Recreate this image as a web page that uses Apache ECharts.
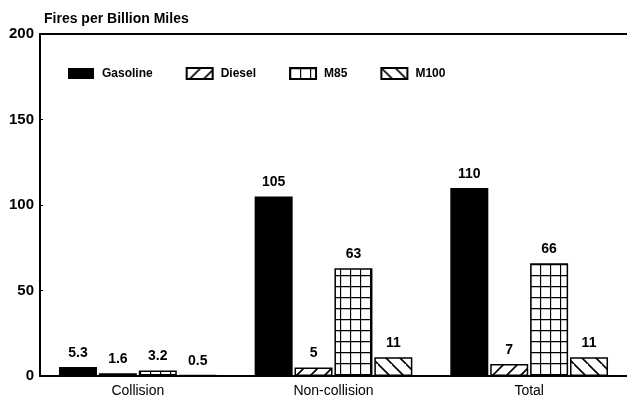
<!DOCTYPE html>
<html><head><meta charset="utf-8">
<script src="https://cdn.jsdelivr.net/npm/echarts@6/dist/echarts.min.js"></script>
<style>html,body{margin:0;padding:0;background:#fff}#c{width:627px;height:402px}</style>
</head><body><div id="c"></div>
<script>
const categories = ['Collision', 'Non-collision', 'Total'];
const seriesNames = ['Gasoline', 'Diesel', 'M85', 'M100'];
const gasoline = [5.3, 105, 110];
const diesel = [1.6, 5, 7];
const m85 = [3.2, 63, 66];
const m100 = [0.5, 11, 11];
const valueLabels = {
  Gasoline: ['5.3', '105', '110'],
  Diesel: ['1.6', '5', '7'],
  M85: ['3.2', '63', '66'],
  M100: ['0.5', '11', '11']
};
const yTicks = [0, 50, 100, 150, 200];

function makeTile(w, h, draw) {
  const c = document.createElement('canvas');
  c.width = w; c.height = h;
  const ctx = c.getContext('2d');
  ctx.fillStyle = '#fff'; ctx.fillRect(0, 0, w, h);
  ctx.strokeStyle = '#000'; ctx.lineWidth = 1.6;
  draw(ctx, w, h);
  return c;
}
const slashTile = makeTile(14, 14, (ctx, w, h) => {
  ctx.beginPath();
  ctx.moveTo(-2, h + 2); ctx.lineTo(w + 2, -2);
  ctx.moveTo(-2 - w, h + 2); ctx.lineTo(2, -2);
  ctx.moveTo(w - 2, 2 * h + 2); ctx.lineTo(2 * w + 2, h - 2);
  ctx.stroke();
});
const backTile = makeTile(14, 14, (ctx, w, h) => {
  ctx.beginPath();
  ctx.moveTo(-2, -2); ctx.lineTo(w + 2, h + 2);
  ctx.moveTo(-2 - w, -2); ctx.lineTo(2, h + 2);
  ctx.moveTo(w - 2, -2 - h); ctx.lineTo(2 * w + 2, 2);
  ctx.stroke();
});
const gridTile = makeTile(10, 11, (ctx, w, h) => {
  ctx.lineWidth = 1.3;
  ctx.beginPath();
  ctx.moveTo(0.5, 0); ctx.lineTo(0.5, h);
  ctx.moveTo(0, 0.5); ctx.lineTo(w, 0.5);
  ctx.stroke();
});

const fills = {
  Gasoline: '#000',
  Diesel: { image: slashTile, repeat: 'repeat' },
  M85: { image: gridTile, repeat: 'repeat' },
  M100: { image: backTile, repeat: 'repeat' }
};
const dataMap = { Gasoline: gasoline, Diesel: diesel, M85: m85, M100: m100 };

const font = '"Liberation Sans", Arial, sans-serif';
const chart = echarts.init(document.getElementById('c'), null, { renderer: 'canvas' });
chart.setOption({
  animation: false,
  backgroundColor: '#fff',
  title: {
    text: 'Fires per Billion Miles', left: 39, top: 7,
    textStyle: { fontFamily: font, fontSize: 14, fontWeight: 'bold', color: '#000' }
  },
  legend: {
    left: 63, top: 62, itemWidth: 26, itemHeight: 11, itemGap: 33,
    icon: 'rect',
    data: seriesNames,
    textStyle: { fontFamily: font, fontSize: 12, fontWeight: 'bold', color: '#000', padding: [0, 0, 0, 3] }
  },
  grid: { left: 40, right: -3, top: 34, bottom: 26 },
  xAxis: [{
    type: 'category', data: categories,
    axisLine: { lineStyle: { color: '#000', width: 2 } },
    axisTick: { show: false },
    axisLabel: { fontFamily: font, fontSize: 14, color: '#000', margin: 8 }
  }, {
    type: 'category', position: 'top', data: categories,
    axisLine: { show: true, onZero: false, lineStyle: { color: '#000', width: 2 } },
    axisTick: { show: false }, axisLabel: { show: false }
  }],
  yAxis: {
    type: 'value', min: yTicks[0], max: yTicks[yTicks.length - 1], interval: 50,
    axisLine: { show: true, lineStyle: { color: '#000', width: 2 } },
    axisTick: { show: true, inside: true, length: 3, lineStyle: { color: '#000' } },
    splitLine: { show: false },
    axisLabel: { fontFamily: font, fontSize: 15, fontWeight: 'bold', color: '#000', margin: 6 }
  },
  series: seriesNames.map(name => ({
    name, type: 'bar', barWidth: 38, barGap: '5%',
    data: dataMap[name],
    itemStyle: {
      color: fills[name],
      borderColor: '#000', borderWidth: name === 'Gasoline' ? 0 : 1.5
    },
    label: {
      show: true, position: 'top', distance: 7,
      formatter: p => valueLabels[name][p.dataIndex],
      fontFamily: font, fontSize: 14, fontWeight: 'bold', color: '#000'
    }
  }))
});
</script></body></html>
